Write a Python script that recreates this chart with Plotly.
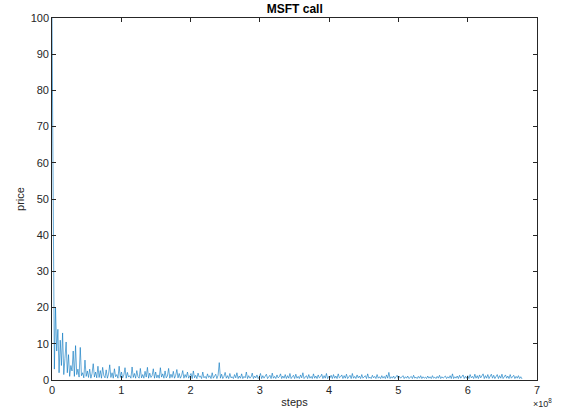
import plotly.graph_objects as go

# step spacing between samples (data index -> steps)
step_size = 1.7e6

price = [
    100, 60, 3, 20, 8, 14, 2, 11, 4, 13, 1.5, 6, 10.5, 2, 7, 1, 4, 2.5, 8, 1,
    9.5, 1.5, 3, 0.8, 9, 1.2, 2, 0.6, 5.5, 1, 2.5, 0.7, 3, 0.5, 1.8, 4.5, 0.8, 2.2, 0.6, 3.8,
    0.7, 2.6, 0.5, 3.5, 1.2, 0.6, 2.8, 0.5, 1.6, 4.2, 0.7, 2.0, 0.5, 3.1, 0.9, 1.5, 0.5, 3.8, 0.7, 2.2,
    0.6, 1.4, 3.4, 0.5, 2.1, 0.8, 1.2, 0.5, 3.6, 0.7, 1.8, 0.5, 2.6, 0.9, 0.5, 3.2, 0.6, 1.5, 0.5, 2.4,
    0.8, 3.5, 0.5, 1.9, 0.7, 1.2, 3.1, 0.5, 2.2, 0.6, 1.4, 0.5, 3.4, 0.8, 1.7, 0.5, 2.5, 0.6, 1.1, 3.2,
    0.5, 1.6, 0.7, 2.4, 0.5, 1.3, 2.9, 0.6, 1.8, 0.5, 1.2, 2.6, 0.5, 1.5, 0.7, 2.2, 0.5, 1.1, 1.8, 0.4,
    2.5, 0.6, 1.3, 0.4, 1.9, 0.8, 1.1, 0.4, 2.2, 0.6, 1.0, 0.4, 1.7, 0.7, 1.2, 0.4, 2.0, 0.5, 0.9, 1.6,
    0.4, 1.3, 4.8, 0.5, 1.6, 0.4, 1.0, 2.1, 0.5, 1.2, 0.4, 1.8, 0.6, 0.9, 0.4, 1.5, 0.6, 2.0, 0.4, 1.1,
    0.5, 1.7, 0.4, 1.0, 0.6, 2.2, 0.4, 1.2, 0.5, 0.8, 1.9, 0.4, 1.1, 0.6, 1.4, 0.4, 0.9, 1.8, 0.4, 1.2,
    0.5, 1.0, 1.6, 0.4, 0.8, 1.3, 0.4, 1.9, 0.5, 1.0, 0.4, 1.4, 0.6, 0.9, 1.7, 0.4, 1.1, 0.5, 1.5, 0.4,
    1.2, 0.5, 1.8, 0.4, 0.9, 1.3, 0.4, 1.6, 0.5, 1.0, 0.4, 1.4, 0.6, 2.0, 0.4, 0.9, 1.2, 0.4, 1.5, 0.5,
    1.0, 0.4, 1.7, 0.5, 1.1, 0.4, 1.4, 0.6, 0.9, 1.6, 0.4, 1.2, 0.5, 1.8, 0.4, 1.0, 0.6, 1.3, 0.4, 1.5,
    0.5, 1.1, 0.4, 1.7, 0.6, 0.9, 1.4, 0.4, 1.2, 0.5, 1.6, 0.4, 0.9, 1.3, 0.4, 1.8, 0.5, 1.0, 0.4, 1.4,
    0.6, 1.1, 0.4, 1.5, 0.5, 0.9, 1.2, 0.4, 1.7, 0.5, 0.8, 0.4, 1.3, 0.6, 1.0, 0.4, 1.5, 0.5, 0.9, 0.4,
    1.2, 0.5, 1.0, 0.4, 1.4, 0.5, 2.1, 0.4, 0.9, 0.5, 1.1, 0.4, 0.8, 1.3, 0.4, 1.0, 0.5, 0.8, 1.2, 0.4,
    0.9, 0.5, 1.1, 0.4, 0.8, 1.0, 0.4, 1.3, 0.5, 0.8, 0.4, 1.0, 0.5, 1.2, 0.4, 0.9, 0.5, 0.8, 0.4, 1.1,
    0.5, 0.9, 0.4, 1.2, 0.5, 0.8, 0.4, 1.0, 0.5, 1.3, 0.4, 0.9, 0.5, 0.8, 1.1, 0.4, 0.9, 0.5, 1.2, 0.4,
    1.7, 0.4, 0.9, 0.5, 1.1, 0.4, 1.3, 0.5, 0.9, 1.4, 0.4, 1.0, 0.5, 1.2, 0.4, 1.5, 0.6, 1.0, 0.4, 1.6,
    0.5, 1.2, 0.4, 1.4, 0.6, 1.0, 1.7, 0.4, 1.2, 0.5, 1.5, 0.4, 1.1, 1.6, 0.5, 1.3, 0.4, 1.0, 1.5, 0.4,
    1.2, 0.5, 1.6, 0.4, 1.0, 1.4, 0.5, 1.1, 0.4, 1.5, 0.5, 0.9, 1.3, 0.4, 1.0, 0.5, 1.2, 0.4, 0.9, 0.3,
]
steps = [i * step_size for i in range(len(price))]

x_tickvals = [0, 1e8, 2e8, 3e8, 4e8, 5e8, 6e8, 7e8]
x_ticktext = ["0", "1", "2", "3", "4", "5", "6", "7"]
y_tickvals = [0, 10, 20, 30, 40, 50, 60, 70, 80, 90, 100]

FONT = "Liberation Sans, Arial, Helvetica, sans-serif"
AX = "#262626"

fig = go.Figure()
fig.add_trace(go.Scatter(
    x=steps, y=price, mode="lines",
    line=dict(color="#0072BD", width=0.6),
    showlegend=False,
))

axis_common = dict(
    showline=True, linecolor=AX, linewidth=0.6, mirror="ticks",
    ticks="inside", ticklen=4, tickcolor=AX, tickwidth=0.6,
    showgrid=False, zeroline=False, automargin=False,
    tickfont=dict(family=FONT, size=11, color=AX),
)

fig.update_layout(
    width=563, height=411,
    margin=dict(l=52, r=26, t=18, b=31),
    paper_bgcolor="white", plot_bgcolor="white",
    title=dict(text="<b>MSFT call</b>", x=0.5235, xanchor="center",
               y=0.978, yanchor="middle",
               font=dict(family=FONT, size=12, color="black")),
    xaxis=dict(range=[0, 7e8], tickvals=x_tickvals, ticktext=x_ticktext,
               title=dict(text="steps", standoff=3,
                          font=dict(family=FONT, size=11, color=AX)),
               **axis_common),
    yaxis=dict(range=[0, 100], tickvals=y_tickvals,
               title=dict(text="price", standoff=3,
                          font=dict(family=FONT, size=11, color=AX)),
               **axis_common),
)

fig.add_annotation(
    text="×10<sup>8</sup>", xref="paper", yref="paper",
    x=1.0, y=0, xanchor="left", yanchor="top", yshift=-15, xshift=-6,
    showarrow=False, font=dict(family=FONT, size=9, color=AX),
)

fig.write_html("out.html")
